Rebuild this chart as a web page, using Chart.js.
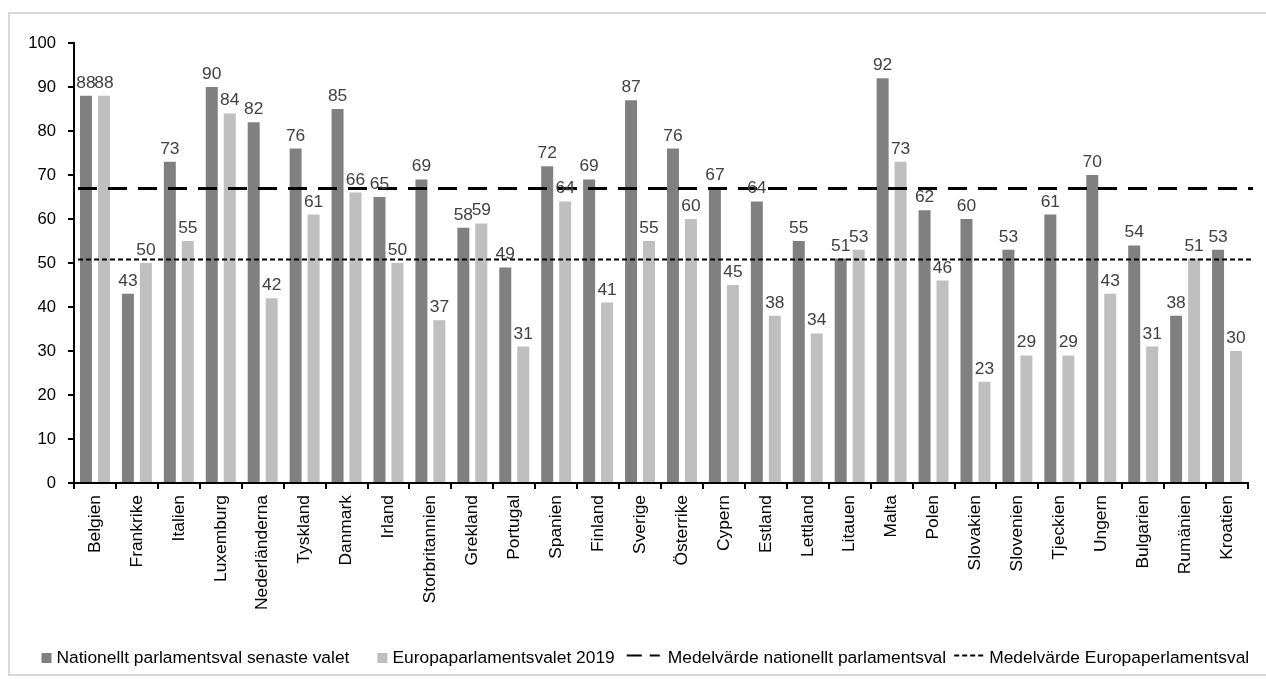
<!DOCTYPE html>
<html lang="sv">
<head>
<meta charset="utf-8">
<title>Valdeltagande</title>
<script src="https://cdn.jsdelivr.net/npm/chart.js@4"></script>
<style>
  html, body { margin: 0; padding: 0; background: #fff; overflow: hidden; }
  #frame { position: absolute; left: 8px; top: 12px; width: 1270px; height: 664px; border: 2px solid #d9d9d9; box-sizing: border-box; }
  #wrap { position: absolute; left: 0; top: 0; width: 1266px; height: 679px; }
</style>
</head>
<body>
<div id="frame"></div>
<div id="wrap"><canvas id="chart"></canvas></div>
<script>
// Länder
const categories = ['Belgien', 'Frankrike', 'Italien', 'Luxemburg', 'Nederländerna', 'Tyskland', 'Danmark', 'Irland',
  'Storbritannien', 'Grekland', 'Portugal', 'Spanien', 'Finland', 'Sverige', 'Österrike', 'Cypern', 'Estland',
  'Lettland', 'Litauen', 'Malta', 'Polen', 'Slovakien', 'Slovenien', 'Tjeckien', 'Ungern', 'Bulgarien', 'Rumänien', 'Kroatien'];

// Valdeltagande (%) i senaste nationella parlamentsval
const nationalTurnout = [88, 43, 73, 90, 82, 76, 85, 65, 69, 58, 49, 72, 69, 87, 76, 67, 64, 55, 51, 92, 62, 60, 53, 61, 70, 54, 38, 53];

// Valdeltagande (%) i Europaparlamentsvalet 2019
const euTurnout = [88, 50, 55, 84, 42, 61, 66, 50, 37, 59, 31, 64, 41, 55, 60, 45, 38, 34, 53, 73, 46, 23, 29, 29, 43, 31, 51, 30];

// Medelvärden
const nationalMean = 67;
const euMean = 51;

// Y-axelns skala
const yMin = 0;
const yMax = 100;
const yStep = 10;

const barLabels = ['Nationellt parlamentsval senaste valet', 'Europaparlamentsvalet 2019'];
const meanLabels = ['Medelvärde nationellt parlamentsval', 'Medelvärde Europaperlamentsval'];

// Välj smalt typsnitt om det finns, annars vanlig Liberation Sans i mindre storlek
function fontAvailable(name) {
  const ctx = document.createElement('canvas').getContext('2d');
  const s = 'Nationellt parlamentsval 0123456789';
  ctx.font = '40px monospace';
  const a = ctx.measureText(s).width;
  ctx.font = '40px "' + name + '", monospace';
  const b = ctx.measureText(s).width;
  return Math.abs(a - b) > 0.5;
}
const narrow = fontAvailable('Liberation Sans Narrow');
const FAMILY = narrow ? '"Liberation Sans Narrow", "Liberation Sans", Arial, sans-serif' : '"Liberation Sans", Arial, sans-serif';
const k = narrow ? 1 : 0.83;
const SIZE_AXIS = Math.round(20 * k * 10) / 10;
const SIZE_XLAB = Math.round(21 * k * 10) / 10;
const SIZE_VAL = Math.round(21 * k * 10) / 10;
const SIZE_LEG = Math.round(21 * k * 10) / 10;

const DARK = '#808080';
const LIGHT = '#bfbfbf';

// Horisontella medelvärdeslinjer (stil för diagram och förklaring)
const meanLines = [
  { label: meanLabels[0], value: nationalMean, width: 3, dash: [19, 11], legendWidth: 2, legendDash: [15, 8], legendLen: 33, textGap: 8 },
  { label: meanLabels[1], value: euMean, width: 2, dash: [5, 3], legendWidth: 2, legendDash: [5, 3], legendLen: 32, textGap: 3 }
];

// Medelvärdeslinjer ritade över staplarna via y-skalan
const meanLinePlugin = {
  id: 'meanLines',
  afterDatasetsDraw(chart) {
    const { ctx, chartArea } = chart;
    const y = chart.scales.y;
    ctx.save();
    ctx.strokeStyle = '#000';
    meanLines.forEach(m => {
      const py = Math.round(y.getPixelForValue(m.value)) + 0.5;
      ctx.lineWidth = m.width;
      ctx.setLineDash(m.dash);
      ctx.beginPath();
      ctx.moveTo(chartArea.left + 4, py);
      ctx.lineTo(chartArea.right + 5, py);
      ctx.stroke();
    });
    ctx.restore();
  }
};

// Värdeetiketter ovanför staplarna
const valueLabels = {
  id: 'valueLabels',
  afterDatasetsDraw(chart) {
    const ctx = chart.ctx;
    ctx.save();
    ctx.font = SIZE_VAL + 'px ' + FAMILY;
    ctx.fillStyle = '#404040';
    ctx.textAlign = 'center';
    ctx.textBaseline = 'alphabetic';
    chart.data.datasets.forEach((ds, i) => {
      const meta = chart.getDatasetMeta(i);
      meta.data.forEach((bar, j) => {
        ctx.fillText(String(ds.data[j]), bar.x, bar.y - 8);
      });
    });
    ctx.restore();
  }
};

// Förklaring längst ned
const bottomLegend = {
  id: 'bottomLegend',
  afterDraw(chart) {
    const ctx = chart.ctx;
    const baseline = 663;
    const lineY = 655.5;
    let x = 41.5;
    ctx.save();
    ctx.font = SIZE_LEG + 'px ' + FAMILY;
    ctx.textBaseline = 'alphabetic';
    ctx.textAlign = 'left';
    const barGapsAfter = [28, 12];
    chart.data.datasets.forEach((ds, i) => {
      ctx.fillStyle = ds.backgroundColor;
      ctx.fillRect(x, baseline - 10, 10, 10);
      x += 15;
      ctx.fillStyle = '#000';
      ctx.fillText(ds.label, x, baseline);
      x += ctx.measureText(ds.label).width + barGapsAfter[i];
    });
    meanLines.forEach((m, i) => {
      ctx.strokeStyle = '#000';
      ctx.lineWidth = m.legendWidth;
      ctx.setLineDash(m.legendDash);
      ctx.beginPath();
      ctx.moveTo(x, lineY);
      ctx.lineTo(x + m.legendLen, lineY);
      ctx.stroke();
      ctx.setLineDash([]);
      x += m.legendLen + m.textGap;
      ctx.fillStyle = '#000';
      ctx.fillText(m.label, x, baseline);
      x += ctx.measureText(m.label).width + 8;
    });
    ctx.restore();
  }
};

const axisFont = { family: FAMILY, size: SIZE_AXIS };

new Chart(document.getElementById('chart'), {
  type: 'bar',
  data: {
    labels: categories,
    datasets: [
      {
        label: barLabels[0], data: nationalTurnout,
        backgroundColor: DARK, borderWidth: 0,
        categoryPercentage: 0.857, barPercentage: 0.667
      },
      {
        label: barLabels[1], data: euTurnout,
        backgroundColor: LIGHT, borderWidth: 0,
        categoryPercentage: 0.857, barPercentage: 0.667
      }
    ]
  },
  options: {
    responsive: true,
    maintainAspectRatio: false,
    devicePixelRatio: 1,
    animation: false,
    layout: { padding: { top: 43, right: 18, bottom: 0, left: 0 } },
    plugins: {
      legend: { display: false },
      tooltip: { enabled: false }
    },
    scales: {
      x: {
        type: 'category',
        offset: true,
        grid: { display: true, drawOnChartArea: false, drawTicks: true, tickLength: 6, color: '#000', lineWidth: 2, offset: true },
        border: { display: true, color: '#000', width: 2 },
        ticks: { color: '#000', font: { family: FAMILY, size: SIZE_XLAB }, maxRotation: 90, minRotation: 90, autoSkip: false, padding: 6 },
        afterFit(scale) { scale.height = 196; }
      },
      y: {
        min: yMin, max: yMax,
        grid: { display: true, drawOnChartArea: false, drawTicks: true, tickLength: 6, color: '#000', lineWidth: 2 },
        border: { display: true, color: '#000', width: 2 },
        ticks: { stepSize: yStep, color: '#000', font: axisFont, padding: 12 },
        afterFit(scale) { scale.width = 74; }
      }
    }
  },
  plugins: [meanLinePlugin, valueLabels, bottomLegend]
});
</script>
</body>
</html>
